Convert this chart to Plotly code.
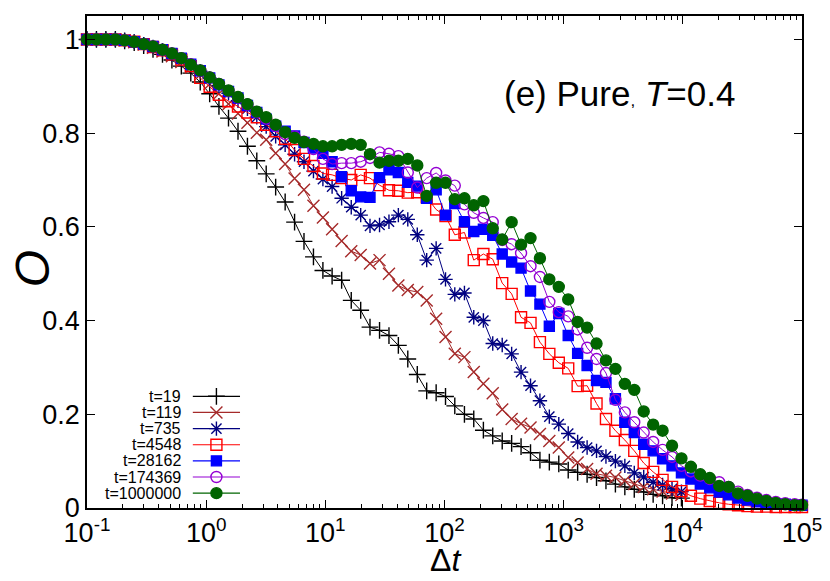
import plotly.graph_objects as go

# Δt grid (log spaced, factor ~1.2)
DT = [0.1, 0.12, 0.144, 0.173, 0.207, 0.249, 0.299, 0.358, 0.43, 0.516,
      0.619, 0.743, 0.892, 1.07, 1.28, 1.54, 1.85, 2.22, 2.66, 3.19,
      3.83, 4.6, 5.52, 6.62, 7.95, 9.54, 11.4, 13.7, 16.5, 19.8,
      23.7, 28.5, 34.2, 41.0, 49.2, 59.1, 70.9, 85.1, 102, 122,
      147, 176, 212, 254, 305, 366, 439, 527, 632, 758,
      910, 1092, 1310, 1573, 1887, 2264, 2717, 3261, 3913, 4696,
      5635, 6762, 8114, 9737, 11684, 14021, 16825, 20190, 24228, 29074,
      34889, 41867, 50240, 60288, 72346, 86815, 100000]

LABELS = ["t=19", "t=119", "t=735", "t=4548", "t=28162", "t=174369", "t=1000000"]

O_T19 = [1.0, 1.0, 1.0, 1.0, 0.997, 0.993, 0.987, 0.979, 0.968, 0.956,
         0.943, 0.928, 0.909, 0.884, 0.857, 0.832, 0.804, 0.772, 0.741, 0.713,
         0.685, 0.653, 0.610, 0.569, 0.536, 0.507, 0.495, 0.486, 0.443, 0.422,
         0.386, 0.379, 0.368, 0.347, 0.318, 0.285, 0.250, 0.246, 0.238, 0.218,
         0.200, 0.190, 0.166, 0.154, 0.143, 0.138, 0.131, 0.118, 0.102, 0.098,
         0.094, 0.081, 0.076, 0.072, 0.065, 0.058, 0.051, 0.045, 0.040, 0.034,
         0.029, 0.026, 0.022, 0.021]

O_T119 = [1.0, 1.0, 1.0, 1.0, 0.998, 0.994, 0.989, 0.982, 0.974, 0.964,
          0.952, 0.940, 0.925, 0.905, 0.884, 0.862, 0.842, 0.822, 0.801, 0.786,
          0.757, 0.734, 0.703, 0.679, 0.645, 0.620, 0.595, 0.570, 0.548, 0.540,
          0.522, 0.529, 0.500, 0.475, 0.465, 0.461, 0.443, 0.404, 0.365, 0.329,
          0.322, 0.290, 0.265, 0.245, 0.210, 0.190, 0.180, 0.172, 0.158, 0.143,
          0.129, 0.108, 0.097, 0.083, 0.073, 0.069, 0.065, 0.058, 0.051, 0.045,
          0.040, 0.035, 0.031, 0.028]

O_T735 = [1.0, 1.0, 1.0, 1.0, 0.998, 0.995, 0.990, 0.984, 0.977, 0.968,
          0.958, 0.945, 0.932, 0.917, 0.901, 0.885, 0.869, 0.852, 0.834, 0.814,
          0.793, 0.775, 0.755, 0.739, 0.719, 0.702, 0.686, 0.661, 0.642, 0.625,
          0.602, 0.604, 0.611, 0.625, 0.616, 0.583, 0.529, 0.554, 0.488, 0.456,
          0.459, 0.407, 0.400, 0.351, 0.348, 0.329, 0.290, 0.261, 0.229, 0.195,
          0.179, 0.159, 0.141, 0.129, 0.122, 0.110, 0.100, 0.090, 0.075, 0.066,
          0.055, 0.049, 0.041, 0.035]

O_T4548 = [1.0, 1.0, 1.0, 1.0, 0.998, 0.995, 0.990, 0.984, 0.977, 0.968,
           0.957, 0.943, 0.918, 0.899, 0.882, 0.868, 0.857, 0.844, 0.834, 0.818,
           0.804, 0.788, 0.764, 0.745, 0.730, 0.714, 0.711, 0.704, 0.700, 0.711,
           0.704, 0.689, 0.678, 0.677, 0.673, 0.674, 0.663, 0.637, 0.623, 0.583,
           0.588, 0.529, 0.542, 0.531, 0.480, 0.457, 0.407, 0.395, 0.354, 0.329,
           0.310, 0.298, 0.260, 0.261, 0.223, 0.190, 0.165, 0.145, 0.122, 0.096,
           0.077, 0.060, 0.045, 0.036, 0.026, 0.020, 0.015, 0.011, 0.008, 0.006,
           0.004, 0.003, 0.003, 0.002, 0.002, 0.002, 0.002]

O_T28162 = [1.0, 1.0, 1.0, 1.0, 0.998, 0.995, 0.990, 0.985, 0.978, 0.970,
            0.960, 0.947, 0.933, 0.918, 0.903, 0.889, 0.875, 0.859, 0.844, 0.830,
            0.815, 0.804, 0.794, 0.780, 0.768, 0.757, 0.739, 0.707, 0.677, 0.664,
            0.663, 0.705, 0.722, 0.716, 0.695, 0.687, 0.661, 0.679, 0.625, 0.650,
            0.611, 0.590, 0.595, 0.582, 0.542, 0.525, 0.512, 0.463, 0.435, 0.388,
            0.415, 0.368, 0.330, 0.304, 0.272, 0.268, 0.233, 0.183, 0.161, 0.136,
            0.122, 0.105, 0.090, 0.075, 0.062, 0.051, 0.043, 0.034, 0.028, 0.021,
            0.017, 0.013, 0.011, 0.009, 0.008, 0.006, 0.006]

O_T174369 = [1.0, 1.0, 1.0, 1.0, 0.998, 0.995, 0.990, 0.985, 0.978, 0.970,
             0.960, 0.947, 0.934, 0.919, 0.905, 0.890, 0.876, 0.861, 0.845, 0.831,
             0.815, 0.798, 0.793, 0.782, 0.766, 0.745, 0.734, 0.736, 0.736, 0.739,
             0.747, 0.759, 0.756, 0.751, 0.716, 0.684, 0.704, 0.715, 0.699, 0.688,
             0.648, 0.630, 0.619, 0.610, 0.572, 0.563, 0.544, 0.516, 0.493, 0.440,
             0.418, 0.409, 0.381, 0.342, 0.318, 0.288, 0.231, 0.204, 0.183, 0.161,
             0.141, 0.124, 0.109, 0.090, 0.078, 0.069, 0.062, 0.055, 0.045, 0.035,
             0.028, 0.022, 0.017, 0.013, 0.010, 0.008, 0.007]

O_T1000000 = [1.0, 1.0, 1.0, 1.0, 0.998, 0.995, 0.990, 0.985, 0.978, 0.970,
              0.960, 0.946, 0.934, 0.919, 0.905, 0.891, 0.877, 0.862, 0.846, 0.834,
              0.818, 0.802, 0.790, 0.781, 0.777, 0.772, 0.772, 0.775, 0.777, 0.775,
              0.755, 0.737, 0.741, 0.741, 0.745, 0.731, 0.666, 0.694, 0.694, 0.659,
              0.661, 0.646, 0.655, 0.597, 0.573, 0.610, 0.562, 0.576, 0.533, 0.488,
              0.472, 0.445, 0.397, 0.385, 0.351, 0.315, 0.297, 0.265, 0.252, 0.206,
              0.178, 0.165, 0.133, 0.106, 0.088, 0.072, 0.064, 0.047, 0.045, 0.031,
              0.026, 0.020, 0.015, 0.011, 0.008, 0.006, 0.006]

SERIES = [O_T19, O_T119, O_T735, O_T4548, O_T28162, O_T174369, O_T1000000]
COLORS = ["#000000", "#a52a2a", "#000080", "#ff0000", "#0000ff", "#9400d3", "#006400"]
SYMBOLS = ["cross-thin-open", "x-thin-open", "asterisk-open", "square-open",
           "square", "circle-open", "circle"]
SIZES = [12, 12, 12, 11, 10, 11, 11]

XTICK_VALS = [0.1, 1, 10, 100, 1000, 10000, 100000]
XTICK_TEXT = ["10<sup>-1</sup>", "10<sup>0</sup>", "10<sup>1</sup>", "10<sup>2</sup>",
              "10<sup>3</sup>", "10<sup>4</sup>", "10<sup>5</sup>"]
XMINOR_VALS = [m * d for d in [0.1, 1, 10, 100, 1000, 10000] for m in range(2, 10)]
YTICK_VALS = [0, 0.2, 0.4, 0.6, 0.8, 1.0]
YTICK_TEXT = ["0", "0.2", "0.4", "0.6", "0.8", "1"]

FONT = "Liberation Sans, Arial, Helvetica, sans-serif"

fig = go.Figure()

for lab, ys, c, sym, sz in zip(LABELS, SERIES, COLORS, SYMBOLS, SIZES):
    fig.add_trace(go.Scatter(
        x=DT[:len(ys)], y=ys, name=lab, mode="lines+markers",
        line=dict(color=c, width=1),
        marker=dict(symbol=sym, size=sz, color=c, line=dict(color=c, width=1.4)),
        cliponaxis=False, showlegend=False))

# gnuplot-style key: text on the left, sample on the right
LEG_X0, LEG_XM, LEG_X1 = 0.148, 0.181, 0.214
LEG_TEXT_X = 0.134
LEG_TOP, LEG_STEP = 0.227, 0.0328
for i, (lab, c, sym, sz) in enumerate(zip(LABELS, COLORS, SYMBOLS, SIZES)):
    yr = LEG_TOP - i * LEG_STEP
    fig.add_trace(go.Scatter(x=[LEG_X0, LEG_X1], y=[yr, yr], xaxis="x2", yaxis="y2",
                             mode="lines", line=dict(color=c, width=1.2),
                             showlegend=False, hoverinfo="skip"))
    fig.add_trace(go.Scatter(x=[LEG_XM], y=[yr], xaxis="x2", yaxis="y2", mode="markers",
                             marker=dict(symbol=sym, size=sz, color=c,
                                         line=dict(color=c, width=1.4)),
                             showlegend=False, hoverinfo="skip"))
    fig.add_annotation(x=LEG_TEXT_X, y=yr, xref="paper", yref="paper", text=lab,
                       xanchor="right", yanchor="middle", showarrow=False,
                       font=dict(size=16, family=FONT, color="black"))

fig.add_annotation(x=0.580, y=0.842, xref="paper", yref="paper",
                   text="(e) Pure<span style='font-size:17px'>,</span> <i>T</i>=0.4",
                   xanchor="left", yanchor="middle", showarrow=False,
                   font=dict(size=35, family=FONT, color="black"))
fig.add_annotation(x=0.502, y=-0.106, xref="paper", yref="paper", text="Δ<i>t</i>",
                   xanchor="center", yanchor="middle", showarrow=False,
                   font=dict(size=32, family=FONT, color="black"))
fig.add_annotation(x=-0.076, y=0.4865, xref="paper", yref="paper", text="<i>O</i>",
                   textangle=-90, xanchor="center", yanchor="middle", showarrow=False,
                   font=dict(size=48, family=FONT, color="black"))

axis_common = dict(showline=True, linecolor="black", linewidth=1.5, mirror="allticks",
                   ticks="inside", ticklen=8, tickwidth=1, tickcolor="black",
                   showgrid=False, zeroline=False, automargin=False,
                   tickfont=dict(size=27, family=FONT, color="black"))

# the page body adds an 8px offset; the figure is sized so the plot frame lands
# at x 87..802, y 16..508 of the 830x581 window
fig.update_layout(
    width=822, height=573,
    margin=dict(l=79, r=28, t=8, b=73, autoexpand=False),
    paper_bgcolor="white", plot_bgcolor="white",
    font=dict(family=FONT, color="black"),
    showlegend=False,
    xaxis=dict(type="log", range=[-1, 5], tickmode="array", tickvals=XTICK_VALS,
               ticktext=XTICK_TEXT,
               minor=dict(ticks="inside", ticklen=4, tickwidth=1, tickcolor="black",
                          tickmode="array", tickvals=XMINOR_VALS, showgrid=False),
               **axis_common),
    yaxis=dict(range=[0, 1.05], tickmode="array", tickvals=YTICK_VALS,
               ticktext=YTICK_TEXT, **axis_common),
    xaxis2=dict(overlaying="x", anchor="y2", range=[0, 1], visible=False),
    yaxis2=dict(overlaying="y", anchor="x2", range=[0, 1], visible=False),
)

fig.write_html("out.html")
